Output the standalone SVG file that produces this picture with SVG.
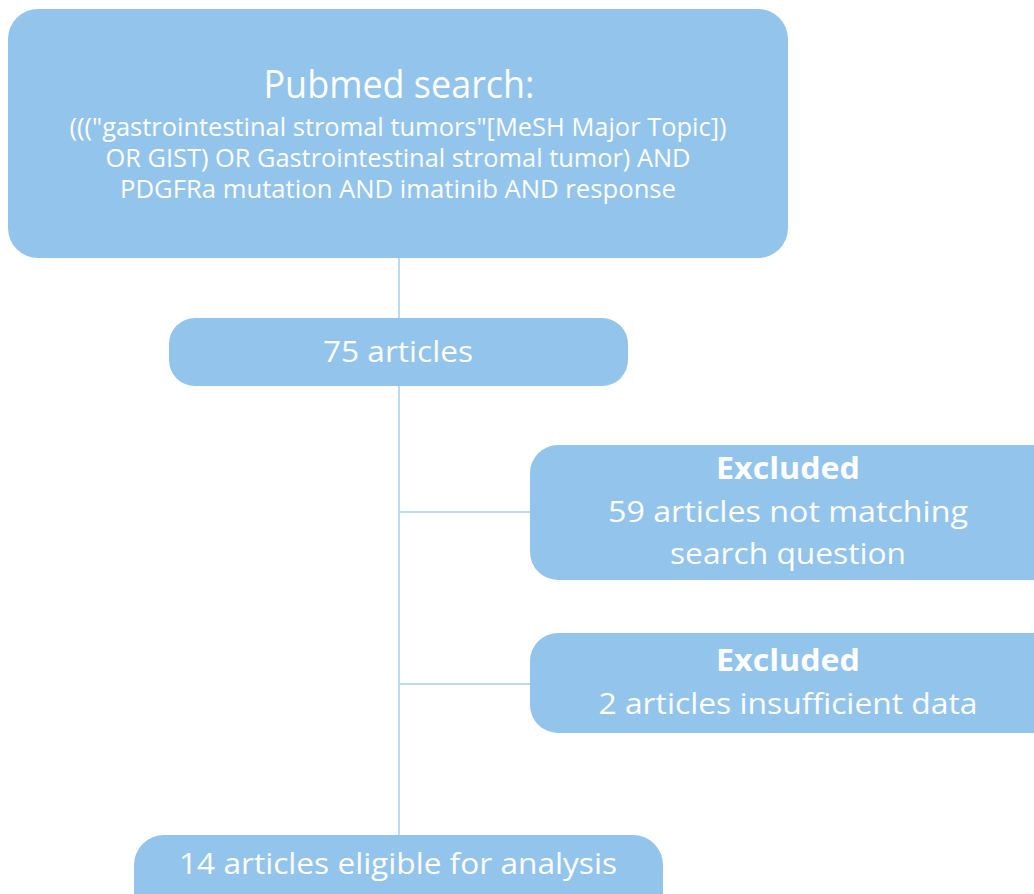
<svg xmlns="http://www.w3.org/2000/svg" width="1034" height="894" viewBox="0 0 1034 894">
<style>
.box{fill:#93C5EC}
.t{font-family:"Open Sans","Liberation Sans",sans-serif;fill:#ffffff;text-anchor:middle}
.b{font-weight:bold}
.ln{stroke:#BBDAF3;stroke-width:2;fill:none}
</style>
<rect width="1034" height="894" fill="#ffffff"/>
<g id="connectors">
<line class="ln" x1="399" y1="258" x2="399" y2="836"/>
<line class="ln" x1="399" y1="512" x2="531" y2="512"/>
<line class="ln" x1="399" y1="684" x2="531" y2="684"/>
</g>
<g id="search">
<rect class="box" x="8" y="9" width="780" height="249" rx="30"/>
<text class="t" x="399" y="98" font-size="38" textLength="271" lengthAdjust="spacingAndGlyphs">Pubmed search:</text>
<text class="t" x="398" y="136" font-size="25" textLength="657" lengthAdjust="spacingAndGlyphs">((("gastrointestinal stromal tumors"[MeSH Major Topic])</text>
<text class="t" x="398" y="167" font-size="25" textLength="585" lengthAdjust="spacingAndGlyphs">OR GIST) OR Gastrointestinal stromal tumor) AND</text>
<text class="t" x="398" y="198" font-size="25" textLength="556" lengthAdjust="spacingAndGlyphs">PDGFRa mutation AND imatinib AND response</text>
</g>
<g id="articles75">
<rect class="box" x="169" y="318" width="459" height="68" rx="26"/>
<text class="t" x="398" y="362" font-size="30" textLength="150" lengthAdjust="spacingAndGlyphs">75 articles</text>
</g>
<g id="excluded1">
<rect class="box" x="530" y="445" width="540" height="135" rx="28"/>
<text class="t b" x="788" y="479" font-size="30" textLength="144" lengthAdjust="spacingAndGlyphs">Excluded</text>
<text class="t" x="788" y="522" font-size="30" textLength="360" lengthAdjust="spacingAndGlyphs">59 articles not matching</text>
<text class="t" x="788" y="564" font-size="30" textLength="236" lengthAdjust="spacingAndGlyphs">search question</text>
</g>
<g id="excluded2">
<rect class="box" x="530" y="633" width="540" height="100" rx="28"/>
<text class="t b" x="788" y="671" font-size="30" textLength="144" lengthAdjust="spacingAndGlyphs">Excluded</text>
<text class="t" x="788" y="714" font-size="30" textLength="379" lengthAdjust="spacingAndGlyphs">2 articles insufficient data</text>
</g>
<g id="eligible">
<rect class="box" x="134" y="835" width="529" height="90" rx="30"/>
<text class="t" x="398" y="874" font-size="30" textLength="438" lengthAdjust="spacingAndGlyphs">14 articles eligible for analysis</text>
</g>
</svg>
